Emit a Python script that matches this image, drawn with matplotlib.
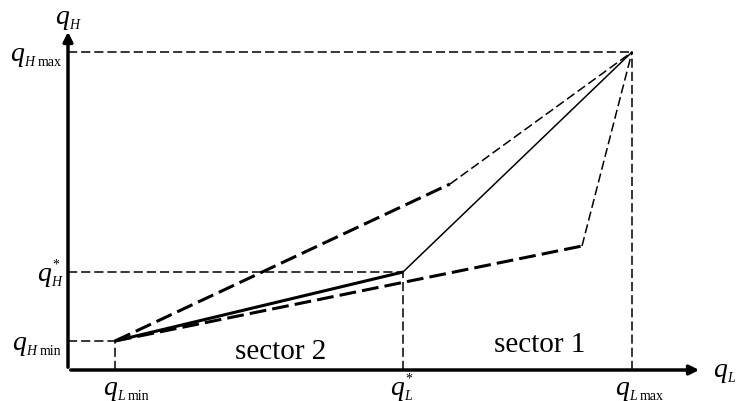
import matplotlib
matplotlib.use("Agg")
import matplotlib.pyplot as plt

plt.rcParams["font.family"] = ["Liberation Serif", "DejaVu Serif"]

# key values on each axis (arbitrary units)
qL_min, qL_star, qL_max = 47, 335, 564
qH_min, qH_star, qH_max = 29, 98, 318

# the three paths from (qL_min, qH_min) to (qL_max, qH_max)
upper_x = [qL_min, 382, qL_max]
upper_y = [qH_min, 186, qH_max]
lower_x = [qL_min, 514, qL_max]
lower_y = [qH_min, 124, qH_max]
mid_x = [qL_min, qL_star, qL_max]
mid_y = [qH_min, qH_star, qH_max]

# (subscript, extra, star) for the axis marks
x_marks = [("L", "min", False), ("L", "", True), ("L", "max", False)]
y_marks = [("H", "min", False), ("H", "", True), ("H", "max", False)]
sectors = ["sector 2", "sector 1"]

fig = plt.figure(figsize=(7.36, 4.02), dpi=100)
ax = fig.add_axes([0, 0, 1, 1])
ax.set_xlim(-68, 668)
ax.set_ylim(-31, 371)
ax.axis("off")

thick_dash = dict(color="black", lw=2.2, dashes=(5.5, 2))
thin_dash = dict(color="black", lw=1.1, dashes=(6, 2.6))


def qlabel(x, y, sub, extra="", star=False):
    # x, y = left edge / baseline of the big italic q
    ax.text(x, y, "q", fontsize=20, style="italic", ha="left", va="baseline")
    w = 14 if sub == "H" else 11
    ax.annotate(sub, xy=(x, y), xytext=(14, -5), textcoords="offset pixels",
                fontsize=10, style="italic", ha="left", va="baseline")
    if extra:
        ax.annotate(extra, xy=(x, y), xytext=(14 + w, -5), textcoords="offset pixels",
                    fontsize=10, ha="left", va="baseline")
    if star:
        ax.annotate("*", xy=(x, y), xytext=(15, 12), textcoords="offset pixels",
                    fontsize=10, ha="left", va="baseline")


# axes with arrows
ax.annotate("", xy=(634, 0), xytext=(0, 0),
            arrowprops=dict(arrowstyle="-|>", color="black", lw=2.5, mutation_scale=14))
ax.annotate("", xy=(0, 341), xytext=(0, 0),
            arrowprops=dict(arrowstyle="-|>", color="black", lw=2.5, mutation_scale=14))

# reference lines
xs = [qL_min, qL_star, qL_max]
ys = [qH_min, qH_star, qH_max]
for x, y in zip(xs, ys):
    ax.plot([x, x], [0, y], **thin_dash)
    ax.plot([0, x], [y, y], **thin_dash)

# upper dashed path
ax.plot(upper_x[:2], upper_y[:2], **thick_dash)
ax.plot(upper_x[1:], upper_y[1:], **thin_dash)
# lower dashed path
ax.plot(lower_x[:2], lower_y[:2], **thick_dash)
ax.plot(lower_x[1:], lower_y[1:], **thin_dash)
# solid path
ax.plot(mid_x[:2], mid_y[:2], color="black", lw=2.2, solid_capstyle="butt")
ax.plot(mid_x[1:], mid_y[1:], color="black", lw=1.1)

# labels
x_shift = [-12, -13, -17]
for x, dx, (sub, extra, star) in zip(xs, x_shift, x_marks):
    qlabel(x + dx, -24, sub, extra, star)
y_left = [-56, -31, -58]
for y, lx, (sub, extra, star) in zip(ys, y_left, y_marks):
    qlabel(lx, y - 8, sub, extra, star)
qlabel(-13, 347, "H")
qlabel(645, -6, "L")

ax.text(213, 19, sectors[0], ha="center", va="center", fontsize=21)
ax.text(472, 26, sectors[1], ha="center", va="center", fontsize=21)

fig.savefig("out.png", dpi=100)
